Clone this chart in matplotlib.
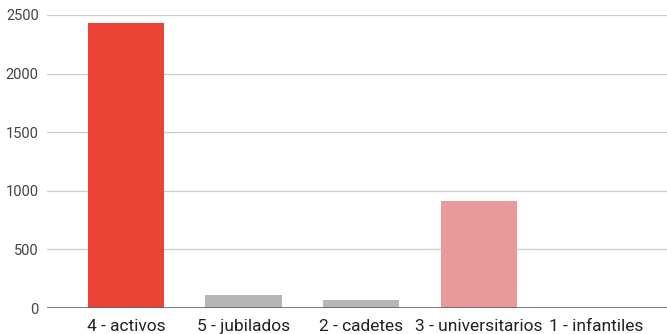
import matplotlib
matplotlib.use("Agg")
import matplotlib.pyplot as plt

categories = ["4 - activos", "5 - jubilados", "2 - cadetes", "3 - universitarios", "1 - infantiles"]
values = [2430, 107, 65, 910, 0]
colors = ["#EA4335", "#B7B7B7", "#B7B7B7", "#EA9999", "#B7B7B7"]
yticks = [0, 500, 1000, 1500, 2000, 2500]

plt.rcParams['font.family'] = ['Roboto', 'DejaVu Sans']
fig = plt.figure(figsize=(6.67, 3.34), dpi=100)
ax = fig.add_axes([47/667, 1 - 308/334, 1 - 47/667, (308 - 15)/334])
x = list(range(len(categories)))
ax.bar(x, values, width=0.65, color=colors, zorder=3)
ax.set_xlim(-0.67, 4.6)
ax.set_ylim(0, 2500)
ax.set_yticks(yticks)
ax.set_yticklabels([str(t) for t in yticks], fontsize=10.5, color="#444444")
ax.set_xticks(x)
ax.set_xticklabels(categories, fontsize=12.5, color="#222222")
ax.grid(axis='y', color="#CCCCCC", linewidth=0.9, zorder=0)
ax.axhline(0, color="#666666", linewidth=1.2, zorder=4)
for s in ax.spines.values():
    s.set_visible(False)
ax.tick_params(axis='both', length=0)
ax.tick_params(axis='y', pad=6)
ax.tick_params(axis='x', pad=8)
fig.savefig("out.png", dpi=100)
